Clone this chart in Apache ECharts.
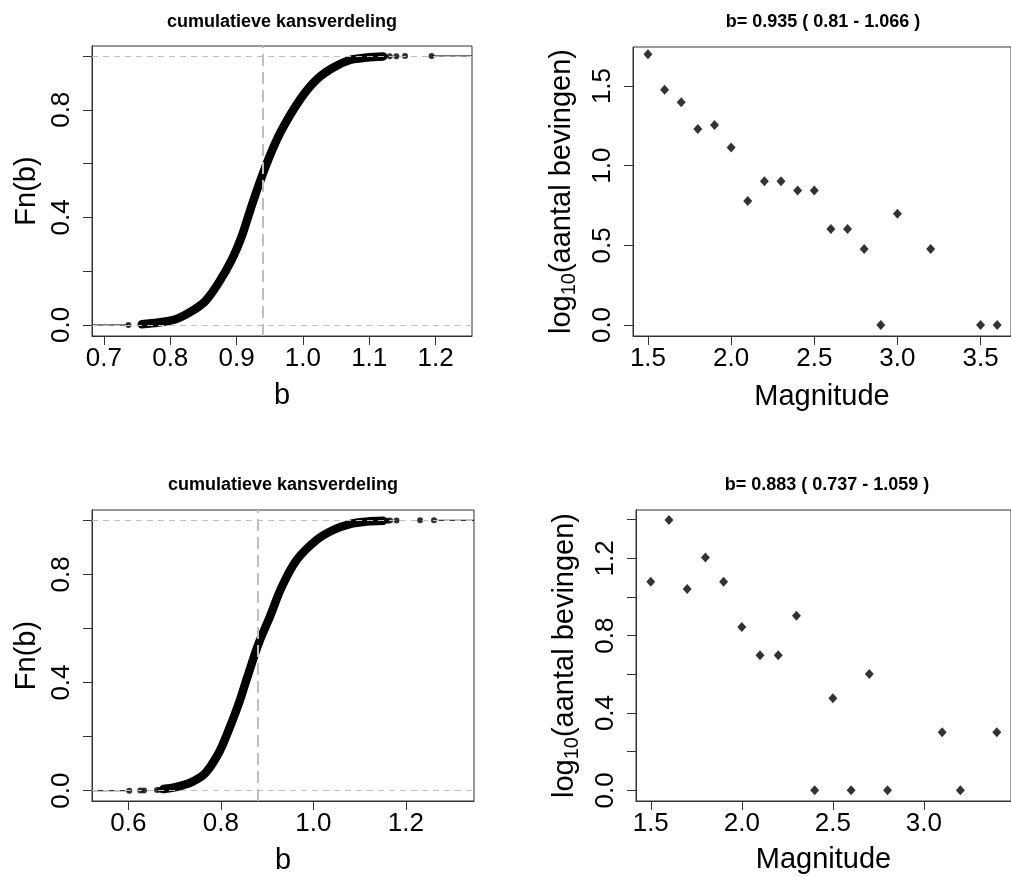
<!DOCTYPE html>
<html>
<head>
<meta charset="utf-8">
<script src="https://cdn.jsdelivr.net/npm/echarts@6/dist/echarts.min.js"></script>
<style>
html,body{margin:0;padding:0;background:#fff;}
#c{width:1011px;height:877px;}
</style>
</head>
<body>
<div id="c"></div>
<script>
// ---------- data ----------
// panel 1 (top-left): ECDF of bootstrapped b-values
const ecdf1B = [0.757,0.782,0.808,0.833,0.853,0.873,0.893,0.908,0.921,0.933,0.948,0.967,0.996,1.021,1.046,1.071,1.096,1.121];
const ecdf1F = [0.003,0.009,0.021,0.052,0.089,0.157,0.244,0.331,0.430,0.517,0.616,0.720,0.839,0.913,0.957,0.985,0.994,0.998];
const tail1LowB = [0.737,0.757,0.762,0.770];
const tail1LowF = [0.000,0.001,0.002,0.003];
const tail1HighB = [1.106,1.121,1.131,1.141,1.154,1.194];
const tail1HighF = [0.997,0.998,0.999,0.999,1.000,1.000];
const bEst1 = 0.935;
const title1 = 'cumulatieve kansverdeling';

// panel 2 (top-right): Gutenberg-Richter
const mags1 = [1.5,1.6,1.7,1.8,1.9,2.0,2.1,2.2,2.3,2.4,2.5,2.6,2.7,2.8,2.9,3.0,3.2,3.5,3.6];
const logN1 = [1.699,1.477,1.398,1.230,1.255,1.114,0.778,0.903,0.903,0.845,0.845,0.602,0.602,0.477,0,0.699,0.477,0,0];
const title2 = 'b= 0.935 ( 0.81 - 1.066 )';

// panel 3 (bottom-left): ECDF
const ecdf2B = [0.676,0.702,0.738,0.766,0.795,0.817,0.839,0.860,0.882,0.906,0.932,0.964,1.007,1.043,1.079,1.115,1.151];
const ecdf2F = [0.006,0.013,0.033,0.064,0.138,0.224,0.323,0.434,0.545,0.643,0.754,0.853,0.927,0.964,0.986,0.995,0.998];
const tail2LowB = [0.602,0.626,0.634,0.662,0.669,0.676];
const tail2LowF = [0.000,0.001,0.001,0.003,0.004,0.005];
const tail2HighB = [1.160,1.166,1.180,1.231,1.261];
const tail2HighF = [0.998,0.999,0.999,1.000,1.000];
const bEst2 = 0.883;
const title3 = 'cumulatieve kansverdeling';

// panel 4 (bottom-right)
const mags2 = [1.5,1.6,1.7,1.8,1.9,2.0,2.1,2.2,2.3,2.4,2.5,2.6,2.7,2.8,3.1,3.2,3.4];
const logN2 = [1.079,1.398,1.041,1.204,1.079,0.845,0.699,0.699,0.903,0,0.477,0,0.602,0,0.301,0,0.301];
const title4 = 'b= 0.883 ( 0.737 - 1.059 )';

// ticks
const x1Ticks = [0.7,0.8,0.9,1.0,1.1,1.2];
const y1Ticks = [0,0.2,0.4,0.6,0.8,1.0];
const y1Labels = [0,0.4,0.8];
const x2Ticks = [1.5,2.0,2.5,3.0,3.5];
const y2Ticks = [0,0.5,1.0,1.5];
const x3Ticks = [0.6,0.8,1.0,1.2];
const y3Ticks = [0,0.2,0.4,0.6,0.8,1.0];
const y3Labels = [0,0.4,0.8];
const x4Ticks = [1.5,2.0,2.5,3.0];
const y4Ticks = [0,0.2,0.4,0.6,0.8,1.0,1.2,1.4];
const y4Labels = [0,0.4,0.8,1.2];

// ---------- helpers ----------
const FONT = '"Liberation Sans", Arial, Helvetica, sans-serif';
const zip = (a,b) => a.map((v,i)=>[v,b[i]]);
const fmt1 = v => v.toFixed(1);
const grids = [
  {left:92, top:46, width:380, height:290},
  {left:633, top:47, width:380, height:289},
  {left:92, top:510, width:382, height:291},
  {left:636, top:510, width:383, height:291}
];
const xr = [[0.682,1.255],[1.410,3.683],[0.5215,1.3475],[1.419,3.478]];
const yr = [[-0.041,1.037],[-0.069,1.745],[-0.038,1.038],[-0.055,1.450]];

function xAxis(i, ticks, name, gap){
  return {type:'value', gridIndex:i, min:xr[i][0], max:xr[i][1], name:name,
    nameLocation:'middle', nameGap:gap,
    nameTextStyle:{fontSize:29, color:'#000', fontFamily:FONT},
    axisLine:{show:true, onZero:false, lineStyle:{color:'#333', width:1}},
    axisTick:{show:true, length:9, customValues:ticks, lineStyle:{color:'#333', width:1}},
    axisLabel:{customValues:ticks, formatter:fmt1, fontSize:26, color:'#000', fontFamily:FONT, margin:10},
    splitLine:{show:false}};
}
function yAxis(i, ticks, labels, name, gap, rich){
  const ax = {type:'value', gridIndex:i, min:yr[i][0], max:yr[i][1], name:name,
    nameLocation:'middle', nameGap:gap, nameRotate:90,
    nameTextStyle:{fontSize:29, color:'#000', fontFamily:FONT},
    axisLine:{show:true, onZero:false, lineStyle:{color:'#333', width:1}},
    axisTick:{show:true, length:9, customValues:ticks, lineStyle:{color:'#333', width:1}},
    axisLabel:{customValues:labels, formatter:fmt1, fontSize:26, color:'#000', fontFamily:FONT, margin:17, rotate:90},
    splitLine:{show:false}};
  if (rich) ax.nameTextStyle.rich = rich;
  return ax;
}
const logRich = {
  a:{fontSize:29, color:'#000', fontFamily:FONT, lineHeight:34},
  s:{fontSize:20, color:'#000', fontFamily:FONT, lineHeight:34, verticalAlign:'bottom', padding:[8,0,0,0]}
};

function ecdfSeries(i, cb, cf, lowB, lowF, highB, highF, bEst){
  return [
    {type:'line', xAxisIndex:i, yAxisIndex:i, data:[[xr[i][0],0],[lowB[0],0]],
      symbol:'none', lineStyle:{color:'#000', width:1}, z:2, silent:true},
    {type:'line', xAxisIndex:i, yAxisIndex:i, data:[[highB[highB.length-1],1],[xr[i][1],1]],
      symbol:'none', lineStyle:{color:'#000', width:1}, z:2, silent:true},
    {type:'line', xAxisIndex:i, yAxisIndex:i, data:zip(cb,cf), symbol:'none',
      smooth:0.35,
      lineStyle:{color:'#000', width:8.5, cap:'round', join:'round'}, z:3, silent:true},
    {type:'scatter', xAxisIndex:i, yAxisIndex:i, data:zip(lowB,lowF).concat(zip(highB,highF)),
      symbol:'circle', symbolSize:6, itemStyle:{color:'#000'}, z:3, silent:true},
    {type:'scatter', xAxisIndex:i, yAxisIndex:i, data:[], z:6, silent:true,
      markLine:{silent:true, symbol:['none','none'], label:{show:false},
        data:[
          {yAxis:0, lineStyle:{color:'#bebebe', width:1, type:[6,5]}},
          {yAxis:1, lineStyle:{color:'#bebebe', width:1, type:[6,5]}},
          {xAxis:bEst, lineStyle:{color:'#bebebe', width:2, type:[12,6]}}
        ]}}
  ];
}
function grSeries(i, m, n){
  return [{type:'scatter', xAxisIndex:i, yAxisIndex:i, data:zip(m,n), symbol:'diamond',
    symbolSize:[9,10], itemStyle:{color:'#000'}, silent:true}];
}

const titleStyle = {fill:'#000', font:'bold 18px '+FONT, textAlign:'center', textVerticalAlign:'middle'};
const option = {
  backgroundColor:'#fff',
  animation:false,
  grid: grids.map(g=>Object.assign({show:true, borderColor:'#333', borderWidth:1, backgroundColor:'transparent', containLabel:false}, g)),
  xAxis:[
    xAxis(0, x1Ticks, 'b', 45),
    xAxis(1, x2Ticks, 'Magnitude', 46),
    xAxis(2, x3Ticks, 'b', 45),
    xAxis(3, x4Ticks, 'Magnitude', 44)
  ],
  yAxis:[
    yAxis(0, y1Ticks, y1Labels, 'Fn(b)', 51),
    yAxis(1, y2Ticks, y2Ticks, '{a|log}{s|10}{a|(aantal bevingen)}', 54, logRich),
    yAxis(2, y3Ticks, y3Labels, 'Fn(b)', 51),
    yAxis(3, y4Ticks, y4Labels, '{a|log}{s|10}{a|(aantal bevingen)}', 54, logRich)
  ],
  graphic:[
    {type:'text', x:282, y:22, style:Object.assign({text:title1}, titleStyle)},
    {type:'text', x:823, y:22, style:Object.assign({text:title2}, titleStyle)},
    {type:'text', x:283, y:485, style:Object.assign({text:title3}, titleStyle)},
    {type:'text', x:827, y:485, style:Object.assign({text:title4}, titleStyle)}
  ],
  series:[].concat(
    ecdfSeries(0, ecdf1B, ecdf1F, tail1LowB, tail1LowF, tail1HighB, tail1HighF, bEst1),
    grSeries(1, mags1, logN1),
    ecdfSeries(2, ecdf2B, ecdf2F, tail2LowB, tail2LowF, tail2HighB, tail2HighF, bEst2),
    grSeries(3, mags2, logN2)
  )
};
const chart = echarts.init(document.getElementById('c'), null, {renderer:'canvas'});
chart.setOption(option);
</script>
</body>
</html>
